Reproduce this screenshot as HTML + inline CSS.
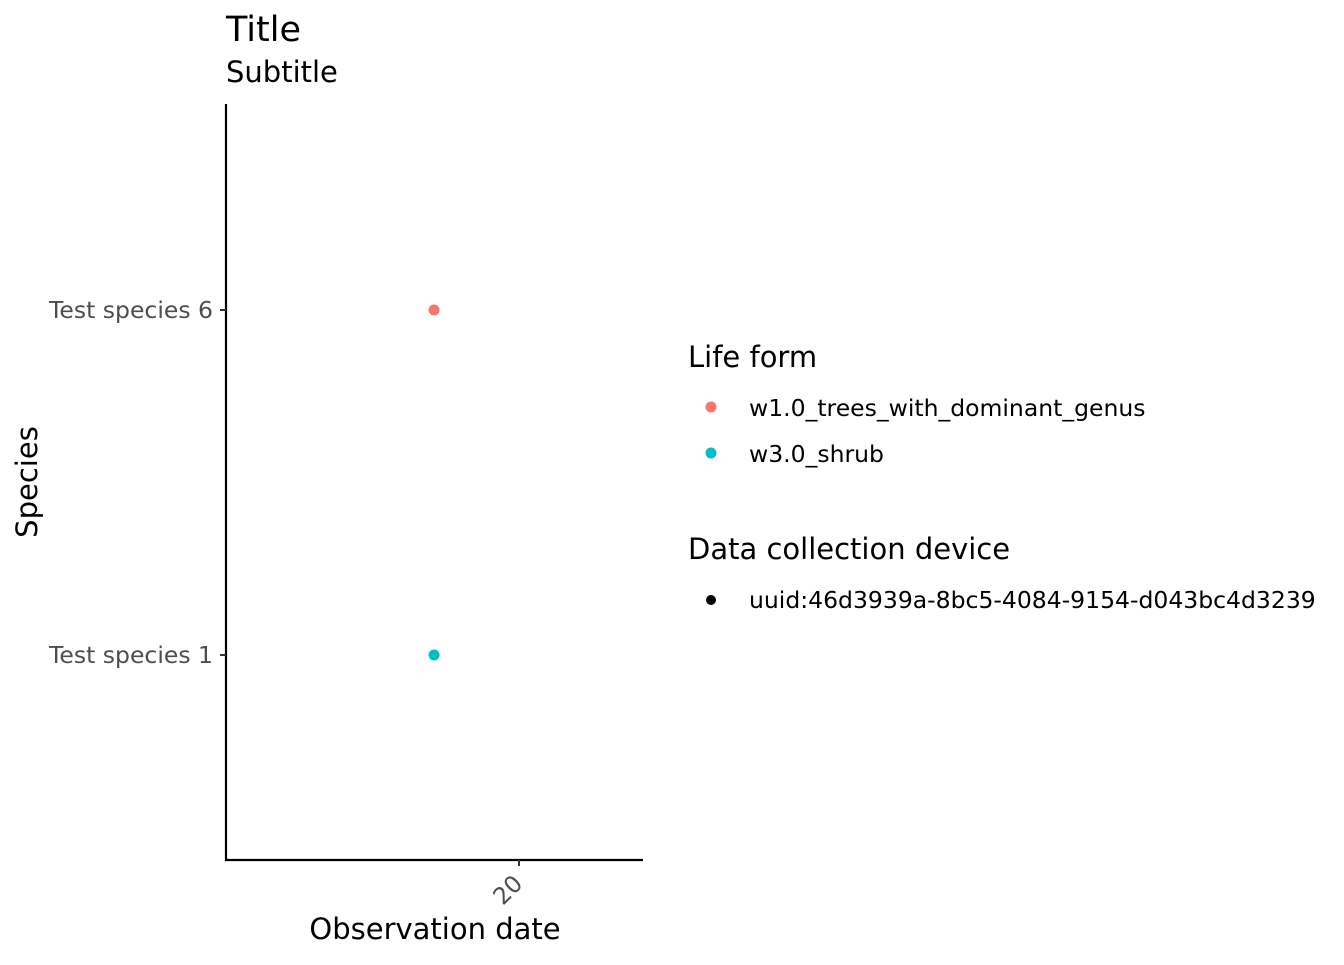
<!DOCTYPE html>
<html><head><meta charset="utf-8"><style>
body{margin:0;background:#fff;}
svg text{font-family:"DejaVu Sans","Liberation Sans",sans-serif;}
</style></head><body>
<svg id="chart" width="1344" height="960" xmlns="http://www.w3.org/2000/svg">
<text x="226" y="41" font-size="35" fill="#000">Title</text>
<text x="226" y="82" font-size="29" fill="#000">Subtitle</text>
<g id="axes"></g>
<g id="points"></g>
<text x="435" y="939" font-size="29" text-anchor="middle" fill="#000">Observation date</text>
<text transform="translate(37,482) rotate(-90)" font-size="29" text-anchor="middle" fill="#000">Species</text>
<g>
<text x="688" y="367" font-size="29" fill="#000">Life form</text>
<circle cx="711" cy="407" r="5.5" fill="#F8766D"/>
<text x="749" y="416" font-size="23.5" fill="#000">w1.0_trees_with_dominant_genus</text>
<circle cx="711" cy="453" r="5.5" fill="#00BFC4"/>
<text x="749" y="462" font-size="23.5" fill="#000">w3.0_shrub</text>
</g>
<g>
<text x="688" y="559" font-size="29" fill="#000">Data collection device</text>
<circle cx="711" cy="600" r="5" fill="#000"/>
<text x="749" y="608" font-size="23.5" fill="#000">uuid:46d3939a-8bc5-4084-9154-d043bc4d3239</text>
</g>
</svg>
<script>
const categories = ["Test species 1", "Test species 6"];
const xValues = [19, 19];
const yValues = ["Test species 1", "Test species 6"];
const pointColors = ["#00BFC4", "#F8766D"];
const xTicks = [20];
const xTickLabels = ["20"];

const NS = "http://www.w3.org/2000/svg";
const L = 226, R = 643, T = 104, B = 860;
const xMin = 16.55, xMax = 21.46;
function xScale(v){ return L + (v - xMin) / (xMax - xMin) * (R - L); }
function yScale(c){
  const i = categories.indexOf(c);
  const pos1 = 655, step = 345;
  return pos1 - i * step;
}
function mk(tag, attrs, parent){
  const e = document.createElementNS(NS, tag);
  for (const k in attrs) e.setAttribute(k, attrs[k]);
  parent.appendChild(e);
  return e;
}
const axes = document.getElementById("axes");
let e = mk("line", {x1:L, y1:T, x2:L, y2:B+1, stroke:"#000", "stroke-width":2.2}, axes);


e = mk("line", {x1:L-1, y1:B, x2:R, y2:B, stroke:"#000", "stroke-width":2.2}, axes);


categories.forEach(c => {
  const y = yScale(c);
  const t = mk("line", {x1:L-6, y1:y, x2:L, y2:y, stroke:"#333", "stroke-width":2}, axes);
  
  
  const lb = mk("text", {x:L-13, y:y+8, "font-size":23.5, fill:"#4d4d4d", "text-anchor":"end"}, axes);
  lb.textContent = c;
  
  
});
xTicks.forEach((v, i) => {
  const x = xScale(v);
  const t = mk("line", {x1:x, y1:B, x2:x, y2:B+6, stroke:"#333", "stroke-width":2}, axes);
  
  
  const lb = mk("text", {transform:`translate(${x+5},${B+25}) rotate(-45)`, "font-size":23.5, fill:"#4d4d4d", "text-anchor":"end"}, axes);
  lb.textContent = xTickLabels[i];
  
  
});
const pts = document.getElementById("points");
xValues.forEach((v, i) => {
  const p = mk("circle", {cx:xScale(v), cy:yScale(yValues[i]), r:5.5, fill:pointColors[i]}, pts);
  
  
});
</script>
</body></html>
